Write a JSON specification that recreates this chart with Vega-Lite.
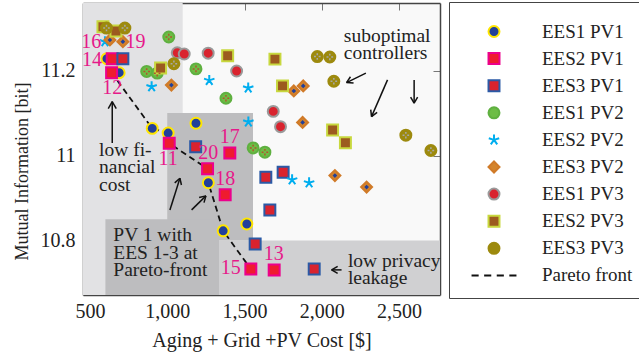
{
  "$schema": "https://vega.github.io/schema/vega-lite/v6.json",
  "width": 357,
  "height": 292,
  "autosize": {"type": "none"},
  "padding": {"left": 83, "top": 3, "right": 199, "bottom": 63},
  "background": "#ffffff",
  "config": {
    "view": {"stroke": null, "fill": "#f9f9f9"},
    "font": "Liberation Serif",
    "axis": {
      "labelFont": "Liberation Serif", "titleFont": "Liberation Serif",
      "labelFontSize": 20, "titleFontSize": 20, "titleFontWeight": "normal",
      "labelColor": "#222", "titleColor": "#222",
      "grid": false, "domain": true, "domainColor": "#444", "domainWidth": 1.5,
      "tickColor": "#777", "tickSize": -7, "tickWidth": 1, "zindex": 1
    }
  },
  "datasets": {
    "regions": [
      {"zone": "light", "x": 455, "x2": 1100, "y": 10.672, "y2": 11.359},
      {"zone": "strip", "x": 1335, "x2": 2765, "y": 10.672, "y2": 10.8},
      {"zone": "dark", "x": 1000, "x2": 1555, "y": 10.8, "y2": 11.1},
      {"zone": "dark", "x": 600, "x2": 1335, "y": 10.672, "y2": 10.85}
    ],
    "points": [
      {"s": "EES1 PV1", "x": 610, "y": 11.228}, {"s": "EES1 PV1", "x": 689, "y": 11.195}, {"s": "EES1 PV1", "x": 903, "y": 11.064}, {"s": "EES1 PV1", "x": 1006, "y": 11.053}, {"s": "EES1 PV1", "x": 1186, "y": 11.076}, {"s": "EES1 PV1", "x": 1266, "y": 10.936}, {"s": "EES1 PV1", "x": 1362, "y": 10.823}, {"s": "EES1 PV1", "x": 1515, "y": 10.839},
      {"s": "EES2 PV1", "x": 644, "y": 11.228}, {"s": "EES2 PV1", "x": 640, "y": 11.195}, {"s": "EES2 PV1", "x": 1013, "y": 11.029}, {"s": "EES2 PV1", "x": 1261, "y": 10.969}, {"s": "EES2 PV1", "x": 1405, "y": 11.006}, {"s": "EES2 PV1", "x": 1375, "y": 10.908}, {"s": "EES2 PV1", "x": 1541, "y": 10.733}, {"s": "EES2 PV1", "x": 1692, "y": 10.731},
      {"s": "EES3 PV1", "x": 713, "y": 11.228}, {"s": "EES3 PV1", "x": 1184, "y": 11.021}, {"s": "EES3 PV1", "x": 1638, "y": 10.949}, {"s": "EES3 PV1", "x": 1750, "y": 10.961}, {"s": "EES3 PV1", "x": 1664, "y": 10.872}, {"s": "EES3 PV1", "x": 1569, "y": 10.792}, {"s": "EES3 PV1", "x": 1951, "y": 10.733},
      {"s": "EES1 PV2", "x": 1010, "y": 11.279}, {"s": "EES1 PV2", "x": 867, "y": 11.198}, {"s": "EES1 PV2", "x": 935, "y": 11.194}, {"s": "EES1 PV2", "x": 1186, "y": 11.204}, {"s": "EES1 PV2", "x": 1380, "y": 11.135}, {"s": "EES1 PV2", "x": 1556, "y": 11.018}, {"s": "EES1 PV2", "x": 1632, "y": 11.008},
      {"s": "EES2 PV2", "x": 597, "y": 11.268}, {"s": "EES2 PV2", "x": 899, "y": 11.162}, {"s": "EES2 PV2", "x": 1272, "y": 11.177}, {"s": "EES2 PV2", "x": 1524, "y": 11.159}, {"s": "EES2 PV2", "x": 1525, "y": 11.079}, {"s": "EES2 PV2", "x": 1808, "y": 10.943}, {"s": "EES2 PV2", "x": 1918, "y": 10.936},
      {"s": "EES3 PV2", "x": 629, "y": 11.272}, {"s": "EES3 PV2", "x": 713, "y": 11.268}, {"s": "EES3 PV2", "x": 1027, "y": 11.166}, {"s": "EES3 PV2", "x": 1819, "y": 11.152}, {"s": "EES3 PV2", "x": 1880, "y": 11.164}, {"s": "EES3 PV2", "x": 1876, "y": 11.078}, {"s": "EES3 PV2", "x": 2085, "y": 10.953}, {"s": "EES3 PV2", "x": 2290, "y": 10.926},
      {"s": "EES1 PV3", "x": 1065, "y": 11.242}, {"s": "EES1 PV3", "x": 1110, "y": 11.239}, {"s": "EES1 PV3", "x": 1265, "y": 11.241}, {"s": "EES1 PV3", "x": 1449, "y": 11.199}, {"s": "EES1 PV3", "x": 1686, "y": 11.104}, {"s": "EES1 PV3", "x": 1733, "y": 11.068},
      {"s": "EES2 PV3", "x": 584, "y": 11.303}, {"s": "EES2 PV3", "x": 668, "y": 11.293}, {"s": "EES2 PV3", "x": 957, "y": 11.206}, {"s": "EES2 PV3", "x": 1391, "y": 11.235}, {"s": "EES2 PV3", "x": 1697, "y": 11.227}, {"s": "EES2 PV3", "x": 1746, "y": 11.164}, {"s": "EES2 PV3", "x": 2070, "y": 11.060}, {"s": "EES2 PV3", "x": 2153, "y": 11.030},
      {"s": "EES3 PV3", "x": 607, "y": 11.300}, {"s": "EES3 PV3", "x": 726, "y": 11.300}, {"s": "EES3 PV3", "x": 1043, "y": 11.216}, {"s": "EES3 PV3", "x": 1971, "y": 11.233}, {"s": "EES3 PV3", "x": 2052, "y": 11.232}, {"s": "EES3 PV3", "x": 2078, "y": 11.175}, {"s": "EES3 PV3", "x": 2544, "y": 11.048}, {"s": "EES3 PV3", "x": 2706, "y": 11.012}
    ],
    "pareto": [
      {"x": 640, "y": 11.195}, {"x": 903, "y": 11.064}, {"x": 1006, "y": 11.053}, {"x": 1013, "y": 11.029},
      {"x": 1261, "y": 10.969}, {"x": 1266, "y": 10.936}, {"x": 1362, "y": 10.823}, {"x": 1541, "y": 10.733}
    ],
    "numbers": [
      {"t": "16", "x": 508, "y": 11.268}, {"t": "19", "x": 794, "y": 11.268}, {"t": "14", "x": 513, "y": 11.225},
      {"t": "12", "x": 644, "y": 11.159}, {"t": "11", "x": 1006, "y": 10.992}, {"t": "20", "x": 1265, "y": 11.006},
      {"t": "17", "x": 1405, "y": 11.043}, {"t": "18", "x": 1376, "y": 10.945}, {"t": "15", "x": 1411, "y": 10.735},
      {"t": "13", "x": 1690, "y": 10.769}
    ],
    "notes": [
      {"t": "low fi-\nnancial\ncost", "x": 559, "y": 11.0},
      {"t": "PV 1 with\nEES 1-3 at\nPareto-front", "x": 651, "y": 10.798},
      {"t": "low privacy\nleakage", "x": 2169, "y": 10.739},
      {"t": "suboptimal\ncontrollers", "x": 2143, "y": 11.268}
    ],
    "arrows": [
      {"x": 644.2, "y": 11.0299, "x2": 644.2, "y2": 11.1271}, {"x": 644.2, "y": 11.1271, "x2": 618.4, "y2": 11.1106}, {"x": 644.2, "y": 11.1271, "x2": 670.1, "y2": 11.1106},
      {"x": 1017.4, "y": 10.8722, "x2": 1082.1, "y2": 10.9468}, {"x": 1082.1, "y": 10.9468, "x2": 1048.5, "y2": 10.9358}, {"x": 1082.1, "y": 10.9468, "x2": 1091.8, "y2": 10.9308},
      {"x": 1157.8, "y": 10.8722, "x2": 1250.3, "y2": 10.9052}, {"x": 1250.3, "y": 10.9052, "x2": 1206.3, "y2": 10.9012}, {"x": 1250.3, "y": 10.9052, "x2": 1238.0, "y2": 10.8894},
      {"x": 2128.0, "y": 10.7311, "x2": 2063.3, "y2": 10.7311}, {"x": 2063.3, "y": 10.7311, "x2": 2102.8, "y2": 10.7393}, {"x": 2063.3, "y": 10.7311, "x2": 2102.8, "y2": 10.7228},
      {"x": 2285.2, "y": 11.1939, "x2": 2160.4, "y2": 11.1718}, {"x": 2160.4, "y": 11.1718, "x2": 2205.6, "y2": 11.1706}, {"x": 2160.4, "y": 11.1718, "x2": 2185.6, "y2": 11.1854},
      {"x": 2425.5, "y": 11.1781, "x2": 2322.0, "y2": 11.0917}, {"x": 2322.0, "y": 11.0917, "x2": 2358.2, "y2": 11.1017}, {"x": 2322.0, "y": 11.0917, "x2": 2316.8, "y2": 11.1082},
      {"x": 2597.6, "y": 11.1781, "x2": 2597.6, "y2": 11.1233}, {"x": 2597.6, "y": 11.1233, "x2": 2574.9, "y2": 11.1377}, {"x": 2597.6, "y": 11.1233, "x2": 2620.2, "y2": 11.1377}
    ]
  },
  "layer": [
    {
      "data": {"name": "regions"},
      "mark": {"type": "rect", "strokeWidth": 0},
      "encoding": {
        "x": {"field": "x", "type": "quantitative", "scale": {"domain": [455, 2765], "nice": false, "zero": false},
              "axis": {"orient": "top", "labels": false, "title": null, "values": [500, 1000, 1500, 2000, 2500]}},
        "x2": {"field": "x2"},
        "y": {"field": "y", "type": "quantitative", "scale": {"domain": [10.672, 11.359], "nice": false, "zero": false},
              "axis": {"orient": "right", "labels": false, "title": null, "values": [10.8, 11, 11.2]}},
        "y2": {"field": "y2"},
        "color": {"field": "zone", "type": "nominal", "legend": null,
                  "scale": {"domain": ["light", "strip", "dark"], "range": ["#e2e2e4", "#d0d0d2", "#bdbdbf"]}}
      }
    },
    {
      "data": {"name": "pareto"},
      "mark": {"type": "line", "color": "#111", "strokeWidth": 1.8, "strokeDash": [6, 4]},
      "encoding": {
        "x": {"field": "x", "type": "quantitative", "scale": {"domain": [455, 2765], "nice": false, "zero": false}, "axis": null},
        "y": {"field": "y", "type": "quantitative", "scale": {"domain": [10.672, 11.359], "nice": false, "zero": false}, "axis": null}
      }
    },
    {
      "data": {"name": "points"},
      "mark": {"type": "point", "filled": true, "size": 120, "strokeWidth": 2, "opacity": 1},
      "encoding": {
        "x": {"field": "x", "type": "quantitative", "scale": {"domain": [455, 2765], "nice": false, "zero": false},
              "axis": {"orient": "bottom", "title": "Aging + Grid +PV Cost [$]", "values": [500, 1000, 1500, 2000, 2500], "format": ",.0f", "labelPadding": 13, "titlePadding": 9}},
        "y": {"field": "y", "type": "quantitative", "scale": {"domain": [10.672, 11.359], "nice": false, "zero": false},
              "axis": {"orient": "left", "title": "Mutual Information [bit]", "titleFontSize": 18, "titleY": 168, "values": [10.8, 11, 11.2], "format": "~g", "labelPadding": 15, "titlePadding": 9}},
        "fill": {"field": "s", "type": "nominal",
                 "scale": {"domain": ["EES1 PV1", "EES2 PV1", "EES3 PV1", "EES1 PV2", "EES2 PV2", "EES3 PV2", "EES1 PV3", "EES2 PV3", "EES3 PV3", "Pareto front"],
                           "range": ["#22409a", "#ee1c2e", "#d9232e", "#6cbd45", "#00aeef", "#d4842c", "#d9232e", "#9c5b1f", "#9d8a0e", "transparent"]},
                 "legend": {"title": " ", "orient": "none", "legendX": 366, "legendY": -1, "padding": 12, "strokeColor": "#444", "fillColor": "#ffffff",
                            "labelFont": "Liberation Serif", "labelFontSize": 19, "labelColor": "#222", "symbolSize": 120, "symbolStrokeWidth": 2,
                            "symbolOffset": 23.5, "labelOffset": 38.5, "rowPadding": 7.1, "titleFontSize": 8, "titlePadding": 0}},
        "stroke": {"field": "s", "type": "nominal",
                   "scale": {"domain": ["EES1 PV1", "EES2 PV1", "EES3 PV1", "EES1 PV2", "EES2 PV2", "EES3 PV2", "EES1 PV3", "EES2 PV3", "EES3 PV3", "Pareto front"],
                             "range": ["#ffe600", "#ec008c", "#2b5aa6", "#5fb040", "#00aeef", "#d07a28", "#9a9a9a", "#c8d83e", "#9d8a0e", "#111111"]},
                   "legend": {"title": " ", "orient": "none", "legendX": 366, "legendY": -1, "padding": 12, "strokeColor": "#444", "fillColor": "#ffffff",
                              "labelFont": "Liberation Serif", "labelFontSize": 19, "labelColor": "#222", "symbolSize": 120, "symbolStrokeWidth": 2,
                              "symbolOffset": 23.5, "labelOffset": 38.5, "rowPadding": 7.1, "titleFontSize": 8, "titlePadding": 0}},
        "shape": {"field": "s", "type": "nominal",
                  "scale": {"domain": ["EES1 PV1", "EES2 PV1", "EES3 PV1", "EES1 PV2", "EES2 PV2", "EES3 PV2", "EES1 PV3", "EES2 PV3", "EES3 PV3", "Pareto front"],
                            "range": ["circle", "square", "square", "circle", "M0,0L0,-1M0,0L0.951,-0.309M0,0L0.588,0.809M0,0L-0.588,0.809M0,0L-0.951,-0.309", "diamond", "circle", "square", "circle", "M-4.1,0L-2.8,0M-1.8,0L-0.5,0M0.5,0L1.8,0M2.8,0L4.1,0"]},
                  "legend": {"title": " ", "orient": "none", "legendX": 366, "legendY": -1, "padding": 12, "strokeColor": "#444", "fillColor": "#ffffff",
                             "labelFont": "Liberation Serif", "labelFontSize": 19, "labelColor": "#222", "symbolSize": 120, "symbolStrokeWidth": 2,
                             "symbolOffset": 23.5, "labelOffset": 38.5, "rowPadding": 7.1, "titleFontSize": 8, "titlePadding": 0}}
      }
    },
    {
      "data": {"name": "points"},
      "transform": [{"filter": "datum.s === 'EES1 PV2'"}],
      "mark": {"type": "point", "shape": "M0,-0.6L0,-0.25M0,0.25L0,0.6M-0.6,0L-0.25,0M0.25,0L0.6,0", "size": 120, "stroke": "#b0552e", "strokeWidth": 1.5, "opacity": 1, "filled": false},
      "encoding": {
        "x": {"field": "x", "type": "quantitative", "scale": {"domain": [455, 2765], "nice": false, "zero": false}, "axis": null},
        "y": {"field": "y", "type": "quantitative", "scale": {"domain": [10.672, 11.359], "nice": false, "zero": false}, "axis": null}
      }
    },
    {
      "data": {"name": "points"},
      "transform": [{"filter": "datum.s === 'EES3 PV3'"}],
      "mark": {"type": "point", "shape": "M0,-0.6L0,-0.25M0,0.25L0,0.6M-0.6,0L-0.25,0M0.25,0L0.6,0", "size": 120, "stroke": "#a8a8a8", "strokeWidth": 1.5, "opacity": 1, "filled": false},
      "encoding": {
        "x": {"field": "x", "type": "quantitative", "scale": {"domain": [455, 2765], "nice": false, "zero": false}, "axis": null},
        "y": {"field": "y", "type": "quantitative", "scale": {"domain": [10.672, 11.359], "nice": false, "zero": false}, "axis": null}
      }
    },
    {
      "data": {"name": "points"},
      "transform": [{"filter": "datum.s === 'EES3 PV2'"}],
      "mark": {"type": "point", "shape": "diamond", "size": 22, "fill": "#22409a", "strokeWidth": 0, "opacity": 1, "filled": true},
      "encoding": {
        "x": {"field": "x", "type": "quantitative", "scale": {"domain": [455, 2765], "nice": false, "zero": false}, "axis": null},
        "y": {"field": "y", "type": "quantitative", "scale": {"domain": [10.672, 11.359], "nice": false, "zero": false}, "axis": null}
      }
    },
    {
      "data": {"name": "arrows"},
      "mark": {"type": "rule", "color": "#111", "strokeWidth": 1.5},
      "encoding": {
        "x": {"field": "x", "type": "quantitative", "scale": {"domain": [455, 2765], "nice": false, "zero": false}, "axis": null},
        "y": {"field": "y", "type": "quantitative", "scale": {"domain": [10.672, 11.359], "nice": false, "zero": false}, "axis": null},
        "x2": {"field": "x2"},
        "y2": {"field": "y2"}
      }
    },
    {
      "data": {"name": "notes"},
      "mark": {"type": "text", "font": "Liberation Serif", "fontSize": 19.5, "color": "#222", "align": "left", "baseline": "alphabetic", "lineBreak": "\n", "lineHeight": 17.5},
      "encoding": {
        "x": {"field": "x", "type": "quantitative", "scale": {"domain": [455, 2765], "nice": false, "zero": false}, "axis": null},
        "y": {"field": "y", "type": "quantitative", "scale": {"domain": [10.672, 11.359], "nice": false, "zero": false}, "axis": null},
        "text": {"field": "t"}
      }
    },
    {
      "data": {"name": "numbers"},
      "mark": {"type": "text", "font": "Liberation Serif", "fontSize": 20, "color": "#e6198a", "align": "center", "baseline": "middle"},
      "encoding": {
        "x": {"field": "x", "type": "quantitative", "scale": {"domain": [455, 2765], "nice": false, "zero": false}, "axis": null},
        "y": {"field": "y", "type": "quantitative", "scale": {"domain": [10.672, 11.359], "nice": false, "zero": false}, "axis": null},
        "text": {"field": "t"}
      }
    }
  ]
}
